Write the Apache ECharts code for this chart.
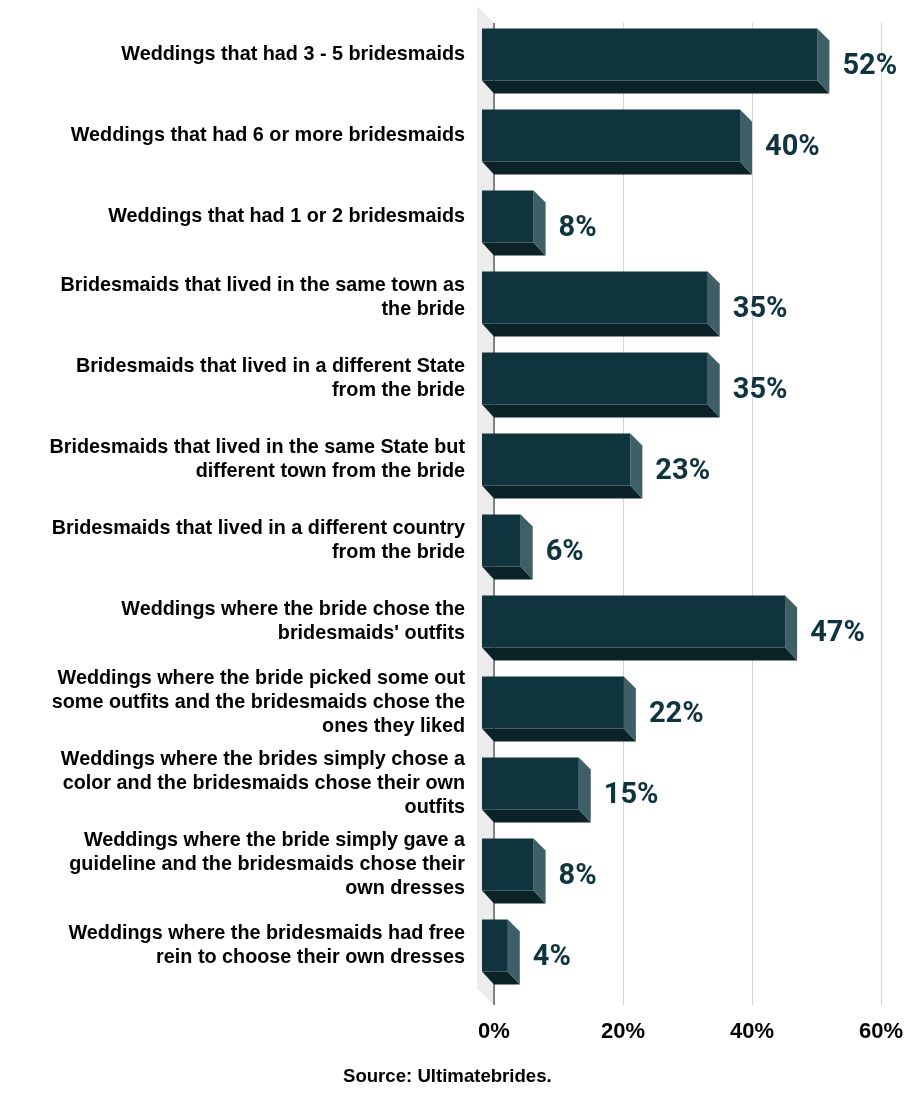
<!DOCTYPE html>
<html>
<head>
<meta charset="utf-8">
<script src="https://cdn.jsdelivr.net/npm/echarts@6/dist/echarts.min.js"></script>
<style>
html,body{margin:0;padding:0;background:#fff;}
#chart{width:918px;height:1096px;}
</style>
</head>
<body>
<div id="chart"></div>
<script>
const categories = [
  "Weddings that had 3 - 5 bridesmaids",
  "Weddings that had 6 or more bridesmaids",
  "Weddings that had 1 or 2 bridesmaids",
  "Bridesmaids that lived in the same town as\nthe bride",
  "Bridesmaids that lived in a different State\nfrom the bride",
  "Bridesmaids that lived in the same State but\ndifferent town from the bride",
  "Bridesmaids that lived in a different country\nfrom the bride",
  "Weddings where the bride chose the\nbridesmaids' outfits",
  "Weddings where the bride picked some out\nsome outfits and the bridesmaids chose the\nones they liked",
  "Weddings where the brides simply chose a\ncolor and the bridesmaids chose their own\noutfits",
  "Weddings where the bride simply gave a\nguideline and the bridesmaids chose their\nown dresses",
  "Weddings where the bridesmaids had free\nrein to choose their own dresses"
];
const values = [52, 40, 8, 35, 35, 23, 6, 47, 22, 15, 8, 4];
const xTicks = [0, 20, 40, 60];

const D = 12;
const FRONT = '#0f343d', BOTTOM = '#0b2227', SIDE = '#3e5f66';

const chart = echarts.init(document.getElementById('chart'));
chart.setOption({
  animation: false,
  title: {
    text: 'Source: Ultimatebrides.',
    left: 343, top: 1067, padding: 0,
    textStyle: {fontFamily: 'Liberation Sans', fontWeight: 'bold', fontSize: 18.6, color: '#000'}
  },
  grid: [
    {left: 494, right: 37, top: 23, height: 982},
    {left: 494, right: 37, top: 14, height: 972}
  ],
  xAxis: [
    {type: 'value', gridIndex: 0, min: xTicks[0], max: xTicks[xTicks.length-1], interval: 20,
     axisLine: {show: false}, axisTick: {show: false},
     splitLine: {show: true, lineStyle: {color: '#d4d4d4', width: 1}},
     axisLabel: {formatter: '{value}%', margin: 16, fontFamily: 'Liberation Sans', fontWeight: 'bold', fontSize: 22, color: '#000'}},
    {type: 'value', gridIndex: 1, min: 0, max: 60, show: false}
  ],
  yAxis: [
    {type: 'value', gridIndex: 0, min: 0, max: 1, show: false},
    {type: 'category', gridIndex: 1, inverse: true, data: categories,
     axisLine: {show: false}, axisTick: {show: false}, splitLine: {show: false},
     axisLabel: {margin: 29, align: 'right', fontFamily: 'Liberation Sans', fontWeight: 'bold', fontSize: 19.8, lineHeight: 24, color: '#000'}}
  ],
  series: [
    {
      type: 'custom', xAxisIndex: 0, yAxisIndex: 0, z: 1, silent: true,
      data: [[0, 0]],
      renderItem: function (params, api) {
        const cs = params.coordSys;
        const x = cs.x, y = cs.y, h = cs.height, w = 17;
        return {type: 'group', children: [
          {type: 'polygon', shape: {points: [[x-w, y-w], [x, y], [x, y+h], [x-w, y+h-w]]}, style: {fill: '#ececec'}},
          {type: 'line', shape: {x1: x, y1: y, x2: x, y2: y+h}, style: {stroke: '#222', lineWidth: 1}}
        ]};
      }
    },
    {
      type: 'custom', xAxisIndex: 1, yAxisIndex: 1, z: 3, silent: true,
      data: values.map((v, i) => [v, i]),
      renderItem: function (params, api) {
        const v = api.value(0);
        const c = api.value(1);
        const p0 = api.coord([0, c]);
        const p1 = api.coord([v, c]);
        const half = 26;
        const xl = p0[0] - D, xr = p1[0] - D;
        const yt = p0[1] - half, yb = p0[1] + half;
        return {type: 'group', children: [
          {type: 'polygon', shape: {points: [[xl, yb], [xr, yb], [xr + D, yb + D + 1], [xl + D, yb + D + 1]]}, style: {fill: BOTTOM}},
          {type: 'polygon', shape: {points: [[xr, yt], [xr + D, yt + D], [xr + D, yb + D + 1], [xr, yb]]}, style: {fill: SIDE}},
          {type: 'rect', shape: {x: xl, y: yt, width: xr - xl, height: yb - yt}, style: {fill: FRONT}},
          {type: 'text', style: {text: v + '%', x: xr + D + 13, y: p0[1] + 12, align: 'left', verticalAlign: 'middle',
            fontFamily: 'Roboto', fontWeight: 'bold', fontSize: 29, fill: '#0f3440'}}
        ]};
      }
    }
  ]
});
</script>
</body>
</html>
